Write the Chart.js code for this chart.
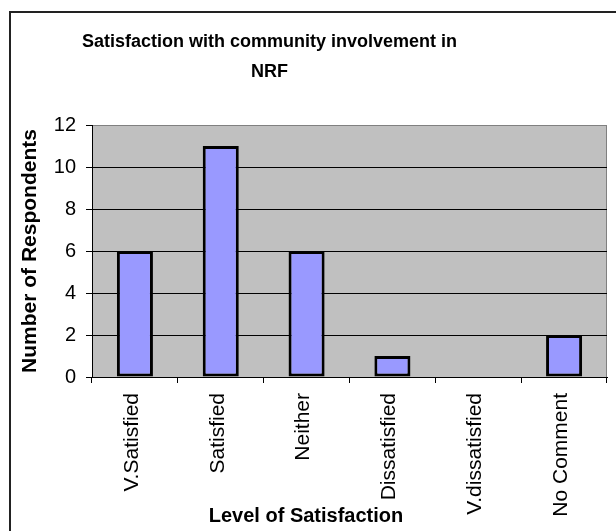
<!DOCTYPE html>
<html>
<head>
<meta charset="utf-8">
<script src="https://cdn.jsdelivr.net/npm/chart.js@4"></script>
<style>
    body { margin: 0; background: #fff; }
    canvas { display: block; }
</style>
</head>
<body>
<canvas id="satisfactionChart" width="616" height="531"></canvas>
<script>
const categories = ['V.Satisfied', 'Satisfied', 'Neither', 'Dissatisfied', 'V.dissatisfied', 'No Comment'];
const respondents = [6, 11, 6, 1, 0, 2];
const yTicks = [0, 2, 4, 6, 8, 10, 12];
const titleLines = ['Satisfaction with community involvement in', 'NRF'];
const xTitle = 'Level of Satisfaction';
const yTitle = 'Number of Respondents';

const fontFamily = '"Liberation Sans", Arial, sans-serif';

// frame + grey plot area, and the x axis title placed where the original has it
const excelLook = {
    id: 'excelLook',
    afterLayout(chart) {
        // original title is centred on the (cropped) frame, not the canvas
        chart.titleBlock.left = 0;
        chart.titleBlock.right = 539;
        chart.titleBlock.width = 539;
    },
    beforeDraw(chart) {
        const ctx = chart.ctx;
        const a = chart.chartArea;
        ctx.save();
        ctx.fillStyle = '#fff';
        ctx.fillRect(0, 0, chart.width, chart.height);
        ctx.strokeStyle = '#222';
        ctx.lineWidth = 2;
        ctx.strokeRect(10, 12, 700, 600);
        ctx.fillStyle = '#c0c0c0';
        ctx.fillRect(a.left, a.top, a.right - a.left, a.bottom - a.top);
        ctx.strokeStyle = '#808080';
        ctx.lineWidth = 1;
        ctx.strokeRect(a.left + 0.5, a.top + 0.5, a.right - a.left - 1, a.bottom - a.top);
        ctx.restore();
    },
    afterDraw(chart) {
        const ctx = chart.ctx;
        ctx.save();
        ctx.font = 'bold 20px ' + fontFamily;
        ctx.fillStyle = '#000';
        ctx.textAlign = 'center';
        ctx.textBaseline = 'middle';
        ctx.fillText(xTitle, 306, 516);
        ctx.restore();
    }
};

const ctx = document.getElementById('satisfactionChart').getContext('2d');

new Chart(ctx, {
    type: 'bar',
    data: {
        labels: categories,
        datasets: [{
            data: respondents,
            backgroundColor: '#9999ff',
            borderColor: '#000',
            borderWidth: 3,
            borderSkipped: false,
            barPercentage: 0.42,
            categoryPercentage: 1
        }]
    },
    options: {
        responsive: false,
        animation: false,
        layout: {
            padding: { left: 0, right: 9, top: 0, bottom: 0 }
        },
        scales: {
            x: {
                offset: true,
                afterFit: (scale) => { scale.height = 154; },
                grid: {
                    display: true,
                    drawOnChartArea: false,
                    drawTicks: true,
                    tickLength: 6,
                    color: '#000',
                    offset: true
                },
                border: { display: true, color: '#000', width: 1 },
                ticks: {
                    autoSkip: false,
                    minRotation: 90,
                    maxRotation: 90,
                    padding: 10,
                    labelOffset: -3,
                    color: '#000',
                    font: { family: fontFamily, size: 21 }
                }
            },
            y: {
                min: 0,
                max: 12,
                afterFit: (scale) => { scale.width = 92; },
                afterBuildTicks: (scale) => {
                    scale.ticks = yTicks.map(v => ({ value: v }));
                },
                grid: {
                    color: (c) => (c.tick && c.tick.value === 12 ? '#808080' : '#000'),
                    tickColor: '#000',
                    tickLength: 6
                },
                border: { display: true, color: '#000', width: 1 },
                ticks: {
                    padding: 10,
                    color: '#000',
                    font: { family: fontFamily, size: 20 }
                },
                title: {
                    display: true,
                    text: yTitle,
                    color: '#000',
                    padding: { top: 18, bottom: 0 },
                    font: { family: fontFamily, size: 21, weight: 'bold' }
                }
            }
        },
        plugins: {
            legend: { display: false },
            tooltip: { enabled: false },
            title: {
                display: true,
                text: titleLines,
                color: '#000',
                padding: { top: 27, bottom: 38 },
                font: { family: fontFamily, size: 18, weight: 'bold', lineHeight: '30px' }
            }
        }
    },
    plugins: [excelLook]
});
</script>
</body>
</html>
